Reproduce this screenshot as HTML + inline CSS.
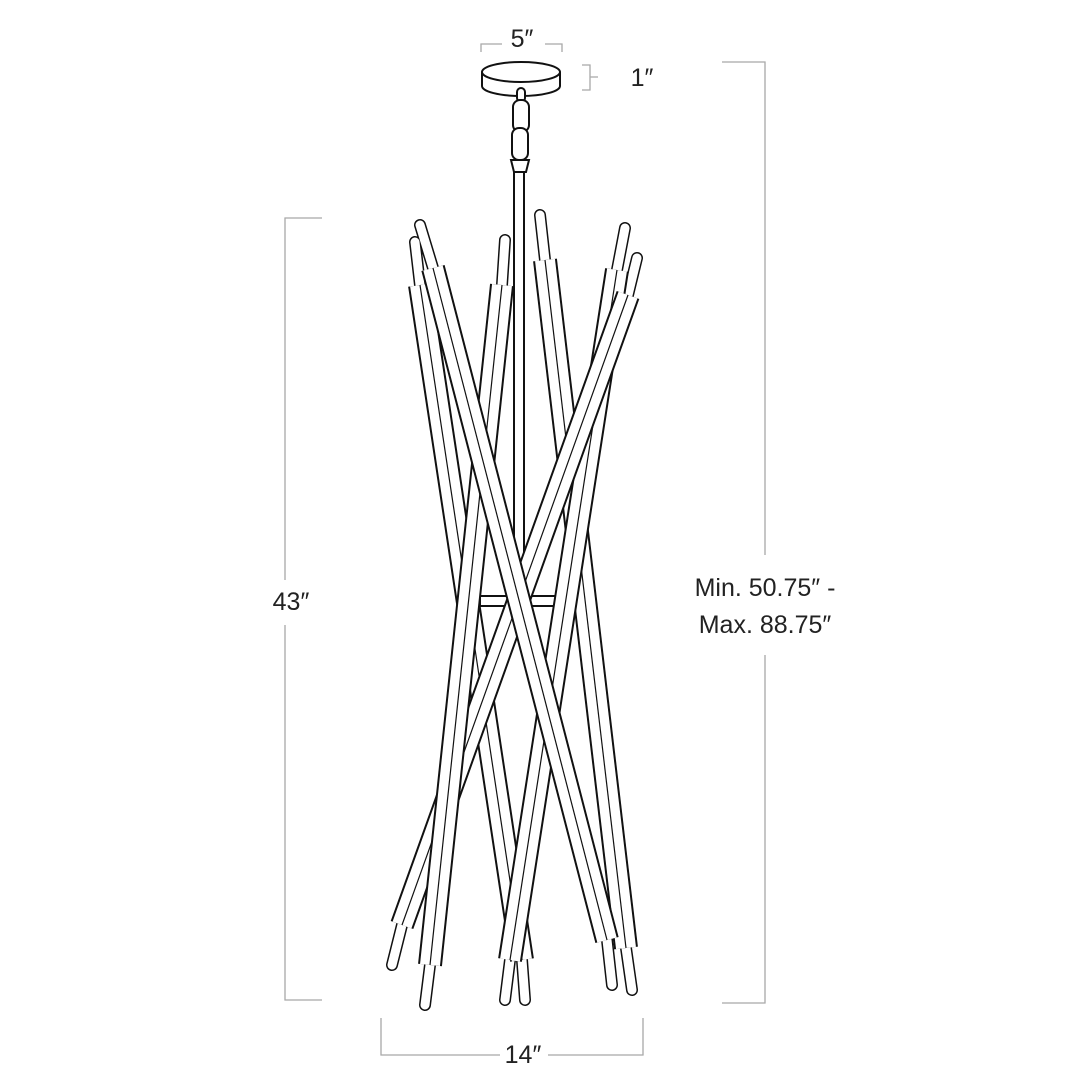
<!DOCTYPE html>
<html><head><style>html,body{margin:0;padding:0;background:#fff;width:1080px;height:1080px;overflow:hidden}</style></head>
<body>
<svg width="1080" height="1080" viewBox="0 0 1080 1080" xmlns="http://www.w3.org/2000/svg">
<g stroke="#a8a8a8" stroke-width="1.3" fill="none">
<path d="M322 218H285V580M285 625V1000H322"/>
<path d="M722 62H765V555M765 655V1003H722"/>
<path d="M381 1018V1055H500M548 1055H643V1018"/>
<path d="M481 52V44H502M545 44H562V52"/>
<path d="M582 65H590V90H582M590 77H598"/>
</g>
<g font-family="Liberation Sans, sans-serif" font-size="25" fill="#222" text-anchor="middle">
<text x="522" y="47">5″</text>
<text x="642" y="86">1″</text>
<text x="291" y="610">43″</text>
<text x="765" y="596">Min. 50.75″ -</text>
<text x="765" y="633">Max. 88.75″</text>
<text x="523" y="1063">14″</text>
</g>
<g stroke="#111" stroke-width="2" fill="#fff">
<path d="M482 72V86A39 10 0 0 0 560 86V72"/>
<ellipse cx="521" cy="72" rx="39" ry="10"/>
<rect x="517" y="88" width="8" height="14" rx="4"/>
<rect x="513" y="100" width="16" height="32" rx="7"/>
<rect x="512" y="128" width="16" height="32" rx="7"/>
<path d="M511 160H529L526 172H514Z"/>
<rect x="514" y="172" width="10" height="430"/>
<rect x="480" y="596" width="86" height="10"/>
</g>
<g stroke-linecap="round" fill="none">
<g stroke="#111" stroke-width="12">
<path d="M420 225L433 268M415 242L420 285M505 240L502 285M540 215L545 260M625 228L617 270M637 258L628 295M392 965L402 925M425 1005L430 965M505 1000L510 960M525 1000L522 960M612 985L607 940M632 990L626 948"/>
</g>
<g stroke="#fff" stroke-width="9">
<path d="M420 225L433 268M415 242L420 285M505 240L502 285M540 215L545 260M625 228L617 270M637 258L628 295M392 965L402 925M425 1005L430 965M505 1000L510 960M525 1000L522 960M612 985L607 940M632 990L626 948"/>
</g>
</g>
<g stroke-linecap="butt" fill="none">
<path d="M420 285L522 960" stroke="#111" stroke-width="24"/><path d="M420 285L522 960" stroke="#fff" stroke-width="20"/><path d="M420 285L522 960" stroke="#111" stroke-width="1.2"/>
<path d="M545 260L626 948" stroke="#111" stroke-width="24"/><path d="M545 260L626 948" stroke="#fff" stroke-width="20"/><path d="M545 260L626 948" stroke="#111" stroke-width="1.2"/>
<path d="M617 270L510 960" stroke="#111" stroke-width="24"/><path d="M617 270L510 960" stroke="#fff" stroke-width="20"/><path d="M617 270L510 960" stroke="#111" stroke-width="1.2"/>
<path d="M628 295L402 925" stroke="#111" stroke-width="24"/><path d="M628 295L402 925" stroke="#fff" stroke-width="20"/><path d="M628 295L402 925" stroke="#111" stroke-width="1.2"/>
<path d="M502 285L430 965" stroke="#111" stroke-width="24"/><path d="M502 285L430 965" stroke="#fff" stroke-width="20"/><path d="M502 285L430 965" stroke="#111" stroke-width="1.2"/>
<path d="M433 268L607 940" stroke="#111" stroke-width="24"/><path d="M433 268L607 940" stroke="#fff" stroke-width="20"/><path d="M433 268L607 940" stroke="#111" stroke-width="1.2"/>
</g>
</svg>
</body></html>
